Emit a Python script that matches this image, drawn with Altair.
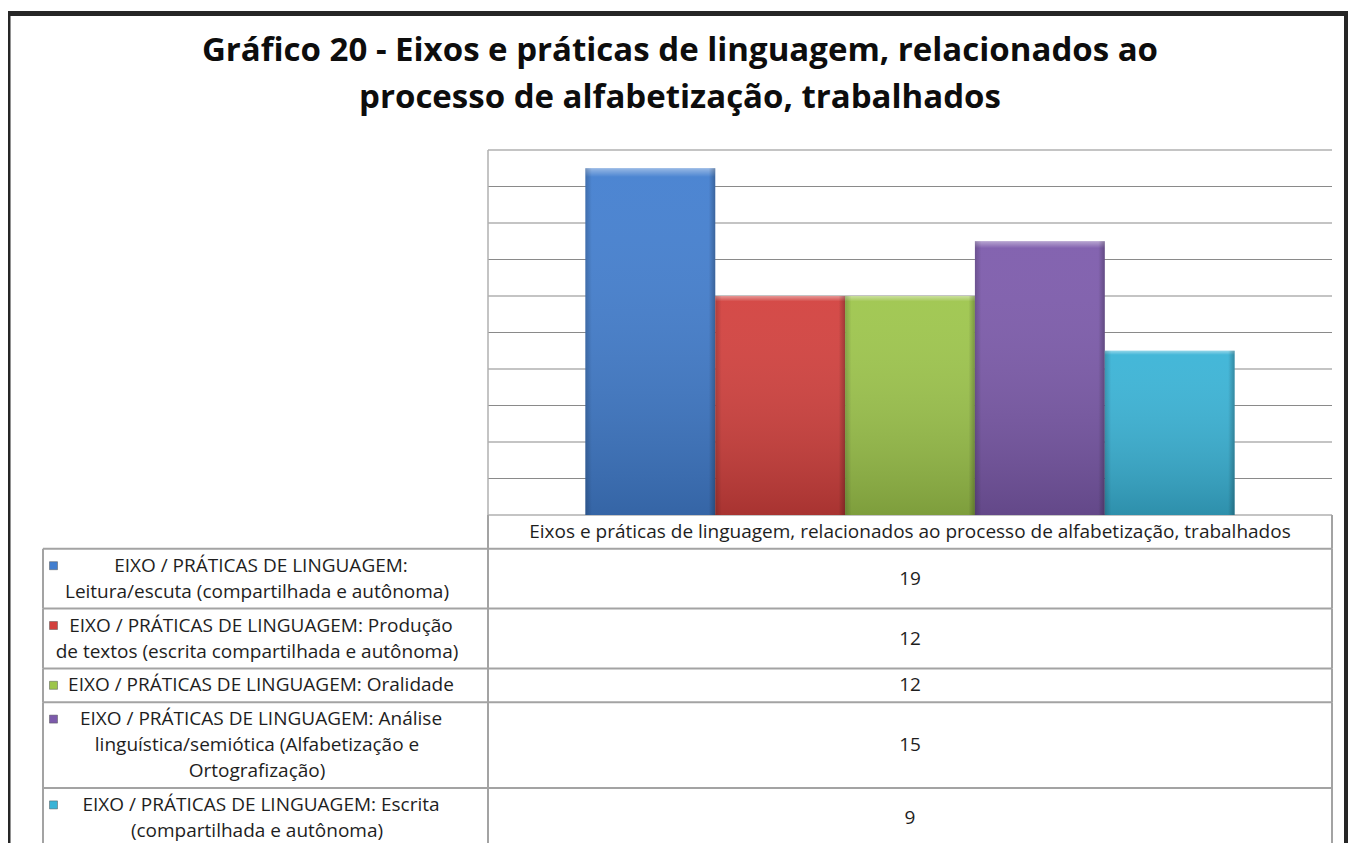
import altair as alt
import pandas as pd

# ---------------- data ----------------
title_lines = [
    "Gráfico 20 - Eixos e práticas de linguagem, relacionados ao",
    "processo de alfabetização, trabalhados",
]
group_label = "Eixos e práticas de linguagem, relacionados ao processo de alfabetização, trabalhados"
series = [
    "EIXO / PRÁTICAS DE LINGUAGEM: Leitura/escuta (compartilhada e autônoma)",
    "EIXO / PRÁTICAS DE LINGUAGEM: Produção de textos (escrita compartilhada e autônoma)",
    "EIXO / PRÁTICAS DE LINGUAGEM: Oralidade",
    "EIXO / PRÁTICAS DE LINGUAGEM: Análise linguística/semiótica (Alfabetização e Ortografização)",
    "EIXO / PRÁTICAS DE LINGUAGEM: Escrita (compartilhada e autônoma)",
]
label_lines = [
    ["EIXO / PRÁTICAS DE LINGUAGEM:", "Leitura/escuta (compartilhada e autônoma)"],
    ["EIXO / PRÁTICAS DE LINGUAGEM: Produção", "de textos (escrita compartilhada e autônoma)"],
    ["EIXO / PRÁTICAS DE LINGUAGEM: Oralidade"],
    ["EIXO / PRÁTICAS DE LINGUAGEM: Análise", "linguística/semiótica (Alfabetização e", "Ortografização)"],
    ["EIXO / PRÁTICAS DE LINGUAGEM: Escrita", "(compartilhada e autônoma)"],
]
values = [19, 12, 12, 15, 9]
colors = ["#427ECF", "#D2403D", "#9DC54B", "#7C5AAB", "#39B3D6"]
grid_ticks = [0, 2, 4, 6, 8, 10, 12, 14, 16, 18, 20]

# ---------------- layout constants ----------------
W, H = 1340, 835
PLOT_L, PLOT_R, PLOT_T, PLOT_B = 480, 1324, 142, 507
TBL_L = 35
ROW_UNIT = 26.0
PAD = 0.3
LABEL_X = 249
FIRST_X = 253
MARK_X = 45.5
VALUE_X = 902
FONT = "Open Sans"
FS = 19
TXT = "#1e1e1e"
LINE = "#a3a3a3"

# ---------------- derived tables ----------------
bars_df = pd.DataFrame({"group": group_label, "series": series, "value": values})

n_lines = [1] + [len(l) for l in label_lines]
tops, t = [], 0.0
for n in n_lines:
    tops.append(t)
    t += n + PAD
rows_df = pd.DataFrame({
    "row": list(range(len(n_lines))),
    "top": tops,
    "bottom": [tp + n + PAD for tp, n in zip(tops, n_lines)],
})
rows_df["mid"] = (rows_df["top"] + rows_df["bottom"]) / 2

body_df = pd.DataFrame({
    "series": series,
    "value": [str(v) for v in values],
    "top": tops[1:],
})
body_df["mid"] = rows_df["mid"].iloc[1:].values
body_df["first"] = body_df["top"] + PAD / 2 + 0.5

line_recs = []
for s, lines, tp in zip(series, label_lines, tops[1:]):
    for j, ln in enumerate(lines):
        line_recs.append({"series": s, "line": ln, "y": tp + PAD / 2 + j + 0.5, "first": j == 0})
lines_df = pd.DataFrame(line_recs)
header_df = pd.DataFrame({"label": [group_label], "y": [tops[0] + (n_lines[0] + PAD) / 2]})
grid_df = pd.DataFrame({"tick": grid_ticks})

# ---------------- scales ----------------
color_scale = alt.Scale(domain=series, range=colors)
y_val = alt.Scale(domain=[0, 20], range=[PLOT_B, PLOT_T], nice=False, zero=True)
x_band = alt.Scale(domain=[group_label], range=[PLOT_L, PLOT_R], paddingOuter=0.15, paddingInner=0)
y_tbl = alt.Scale(domain=[0, 10], range=[PLOT_B, PLOT_B + 10 * ROW_UNIT], nice=False, zero=False)

# ---------------- bar part ----------------
grid = alt.Chart(grid_df).mark_rule(color="#8a8a8a", strokeWidth=1.2).encode(
    y=alt.Y("tick:Q", scale=y_val, axis=None),
    x=alt.value(PLOT_L), x2=alt.value(PLOT_R),
)
enc = dict(
    x=alt.X("group:N", scale=x_band, axis=None),
    xOffset=alt.XOffset("series:N", sort=series, scale=alt.Scale(paddingInner=0, paddingOuter=0)),
    y=alt.Y("value:Q", scale=y_val, axis=None),
)
bars = alt.Chart(bars_df).mark_bar().encode(
    color=alt.Color("series:N", scale=color_scale, legend=None), **enc
)
shade_v = alt.Chart(bars_df).mark_bar(
    color=alt.Gradient(
        gradient="linear", x1=0, x2=0, y1=0, y2=1,
        stops=[
            alt.GradientStop(color="rgba(255,255,255,0.45)", offset=0),
            alt.GradientStop(color="rgba(255,255,255,0.06)", offset=0.025),
            alt.GradientStop(color="rgba(0,0,0,0.2)", offset=1),
        ],
    )
).encode(**enc)
shade_h = alt.Chart(bars_df).mark_bar(
    color=alt.Gradient(
        gradient="linear", x1=0, x2=1, y1=0, y2=0,
        stops=[
            alt.GradientStop(color="rgba(0,0,0,0.18)", offset=0),
            alt.GradientStop(color="rgba(0,0,0,0)", offset=0.05),
            alt.GradientStop(color="rgba(0,0,0,0)", offset=0.95),
            alt.GradientStop(color="rgba(0,0,0,0.25)", offset=1),
        ],
    )
).encode(**enc)
bar_part = alt.layer(grid, bars, shade_v, shade_h)

# ---------------- table part ----------------
hlines = alt.Chart(rows_df).mark_rule(color=LINE, strokeWidth=2).encode(
    y=alt.Y("bottom:Q", scale=y_tbl, axis=None),
    x=alt.value(TBL_L), x2=alt.value(PLOT_R),
)
vleft = alt.Chart(rows_df).transform_filter("datum.row > 0").mark_rule(color=LINE, strokeWidth=2).encode(
    y=alt.Y("top:Q", scale=y_tbl, axis=None), y2="bottom:Q", x=alt.value(TBL_L),
)
vmid = alt.Chart(rows_df).mark_rule(color=LINE, strokeWidth=2).encode(
    y=alt.Y("top:Q", scale=y_tbl, axis=None), y2="bottom:Q", x=alt.value(PLOT_L),
)
vright = alt.Chart(rows_df).mark_rule(color=LINE, strokeWidth=2).encode(
    y=alt.Y("top:Q", scale=y_tbl, axis=None), y2="bottom:Q", x=alt.value(PLOT_R),
)
txt_style = dict(font=FONT, fontSize=FS, color=TXT, baseline="middle", align="center")
header_txt = alt.Chart(header_df).mark_text(**txt_style).encode(
    y=alt.Y("y:Q", scale=y_tbl, axis=None), x=alt.value(VALUE_X), text="label:N",
)
label_first = alt.Chart(lines_df).transform_filter("datum.first").mark_text(**txt_style).encode(
    y=alt.Y("y:Q", scale=y_tbl, axis=None), x=alt.value(FIRST_X), text="line:N",
)
label_rest = alt.Chart(lines_df).transform_filter("!datum.first").mark_text(**txt_style).encode(
    y=alt.Y("y:Q", scale=y_tbl, axis=None), x=alt.value(LABEL_X), text="line:N",
)
value_txt = alt.Chart(body_df).mark_text(**txt_style).encode(
    y=alt.Y("mid:Q", scale=y_tbl, axis=None), x=alt.value(VALUE_X), text="value:N",
)
markers = alt.Chart(body_df).mark_square(size=64, opacity=1, stroke="#555555", strokeWidth=0.5).encode(
    y=alt.Y("first:Q", scale=y_tbl, axis=None), x=alt.value(MARK_X),
    color=alt.Color("series:N", scale=color_scale, legend=None),
)
table_part = alt.layer(hlines, vleft, vmid, vright, header_txt, label_first, label_rest, value_txt, markers)

# ---------------- decoration ----------------
one = alt.Data(values=[{"k": 0}])
plot_left = alt.Chart(one).mark_rule(color="#b0b0b0", strokeWidth=1.5).encode(
    x=alt.value(PLOT_L), y=alt.value(PLOT_T), y2=alt.value(PLOT_B),
)
title = alt.Chart(one).mark_text(
    font=FONT, fontSize=33, fontWeight="bold", color="#0d0d0d",
    align="center", baseline="alphabetic", lineHeight=47,
).encode(x=alt.value(672), y=alt.value(53), text=alt.value(title_lines))
frame_l = alt.Chart(one).mark_rule(color="#262626", strokeWidth=5).encode(
    x=alt.value(0), y=alt.value(3), y2=alt.value(H))
frame_t = alt.Chart(one).mark_rule(color="#262626", strokeWidth=5).encode(
    y=alt.value(5.5), x=alt.value(0), x2=alt.value(W))
frame_r = alt.Chart(one).mark_rule(color="#262626", strokeWidth=6).encode(
    x=alt.value(W - 1), y=alt.value(3), y2=alt.value(H))
decor = alt.layer(plot_left, title, frame_l, frame_t, frame_r)

chart = alt.layer(bar_part, table_part, decor).resolve_scale(
    y="independent", x="independent"
).properties(
    width=W, height=H, padding=0,
    autosize=alt.AutoSizeParams(type="none"),
    background="white",
).configure_view(stroke=None)

chart.save("out.html", embed_options={"renderer": "svg", "actions": False})
